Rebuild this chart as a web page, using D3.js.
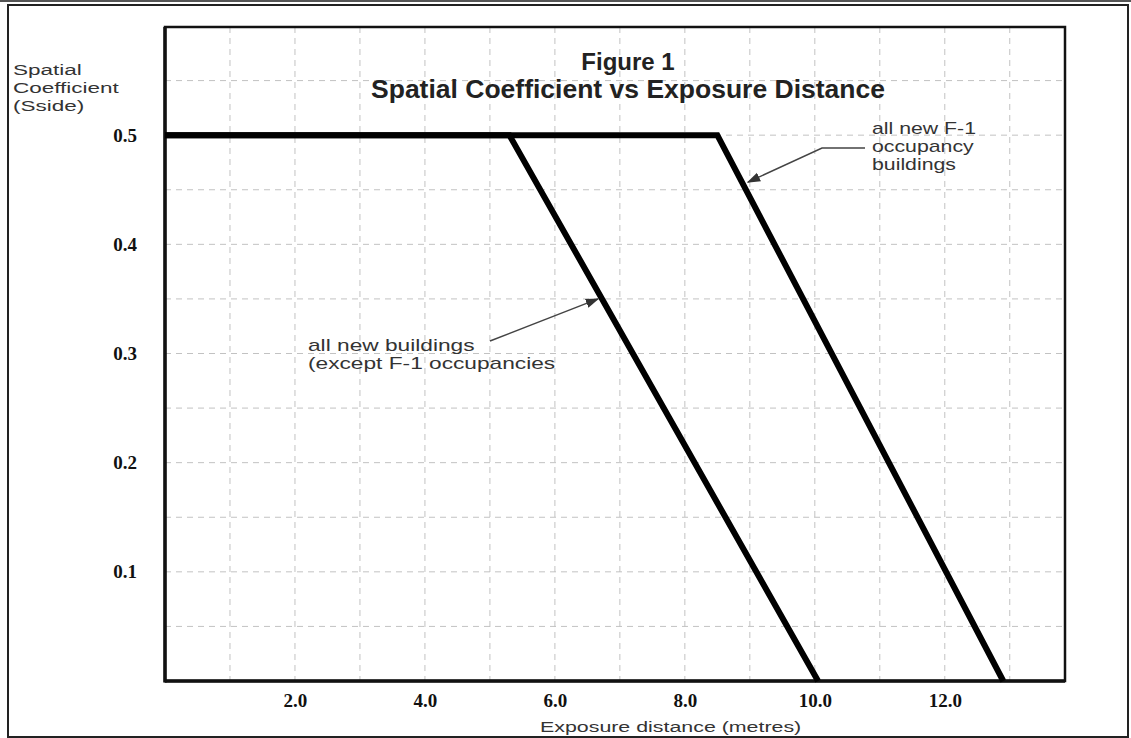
<!DOCTYPE html>
<html><head><meta charset="utf-8">
<script src="https://cdn.jsdelivr.net/npm/d3@7"></script>
<style>body{margin:0;background:#fff}svg{display:block}</style>
</head><body>
<svg id="c" width="1131" height="738"></svg>
<script>
// ---- data ----
const seriesNames = ["all new buildings (except F-1 occupancies", "all new F-1 occupancy buildings"];
const distanceGeneral = [0, 5.3, 10.05];
const coefGeneral = [0.5, 0.5, 0];
const distanceF1 = [0, 8.5, 12.9];
const coefF1 = [0.5, 0.5, 0];
const xTickValues = [2, 4, 6, 8, 10, 12];
const xTickLabels = ["2.0", "4.0", "6.0", "8.0", "10.0", "12.0"];
const yTickValues = [0.1, 0.2, 0.3, 0.4, 0.5];
const yTickLabels = ["0.1", "0.2", "0.3", "0.4", "0.5"];
const xGridValues = [1, 2, 3, 4, 5, 6, 7, 8, 9, 10, 11, 12, 13];
const yGridValues = [0.05, 0.1, 0.15, 0.2, 0.25, 0.3, 0.35, 0.4, 0.45, 0.5, 0.55];
const xDomain = [0, 13.85];
const yDomain = [0, 0.6];
const titleLines = ["Figure 1", "Spatial Coefficient vs Exposure Distance"];
const yTitleLines = ["Spatial", "Coefficient", "(Sside)"];
const xTitle = "Exposure distance (metres)";
const noteGeneral = ["all new buildings", "(except F-1 occupancies"];
const noteF1 = ["all new F-1", "occupancy", "buildings"];

// ---- layout ----
const svg = d3.select("#c");
const L = 165, R = 1065, T = 27, B = 681;
const x = d3.scaleLinear().domain(xDomain).range([L, R]);
const y = d3.scaleLinear().domain(yDomain).range([B, T - 1]);

svg.append("rect").attr("width", 1131).attr("height", 738).attr("fill", "#fff");

// scan edge + outer frame
svg.append("line").attr("x1", 0).attr("x2", 1131).attr("y1", 1).attr("y2", 1)
  .attr("stroke", "#555").attr("stroke-width", 2);
svg.append("rect").attr("x", 8).attr("y", 5).attr("width", 1120).attr("height", 732)
  .attr("fill", "none").attr("stroke", "#222").attr("stroke-width", 2);

// grid
const grid = svg.append("g").attr("stroke", "#c2c2c2").attr("stroke-width", 1)
  .attr("stroke-dasharray", "6,5");
grid.selectAll(".gx").data(xGridValues).join("line")
  .attr("x1", d => x(d)).attr("x2", d => x(d)).attr("y1", T).attr("y2", B);
grid.selectAll(".gy").data(yGridValues).join("line")
  .attr("y1", d => y(d)).attr("y2", d => y(d)).attr("x1", L).attr("x2", R);

// plot box
svg.append("rect").attr("x", L).attr("y", T).attr("width", R - L).attr("height", B - T)
  .attr("fill", "none").attr("stroke", "#111").attr("stroke-width", 2.5);
svg.append("line").attr("x1", L).attr("x2", L).attr("y1", T).attr("y2", B + 1.5)
  .attr("stroke", "#111").attr("stroke-width", 3.5);
svg.append("line").attr("x1", L).attr("x2", R).attr("y1", B).attr("y2", B)
  .attr("stroke", "#111").attr("stroke-width", 3.5);

// axes (labels only)
const tickFont = "'Liberation Serif', 'DejaVu Serif', serif";
const xAxis = svg.append("g").attr("transform", `translate(0,${B})`)
  .call(d3.axisBottom(x).tickValues(xTickValues).tickFormat((d, i) => xTickLabels[i]).tickSize(0).tickPadding(13));
const yAxis = svg.append("g").attr("transform", `translate(${L},0)`)
  .call(d3.axisLeft(y).tickValues(yTickValues).tickFormat((d, i) => yTickLabels[i]).tickSize(0).tickPadding(28));
[xAxis, yAxis].forEach(g => {
  g.select(".domain").remove();
  g.selectAll("text").attr("font-family", tickFont).attr("font-weight", "bold")
    .attr("font-size", 19).attr("fill", "#111");
});

// series lines
const line = d3.line().x(d => x(d[0])).y(d => y(d[1]));
const seriesData = [d3.zip(distanceGeneral, coefGeneral), d3.zip(distanceF1, coefF1)];
svg.selectAll(".series").data(seriesData).join("path")
  .attr("d", line).attr("fill", "none").attr("stroke", "#000")
  .attr("stroke-width", 6).attr("stroke-linejoin", "miter");

// text helpers
const sans = "'Liberation Sans', Arial, sans-serif";
function stretchText(lines, x0, y0, dy, size, sx, color) {
  lines.forEach((t, i) => {
    svg.append("text").attr("transform", `translate(${x0},${y0 + i * dy}) scale(${sx},1)`)
      .attr("font-family", sans).attr("font-size", size).attr("fill", color || "#333").text(t);
  });
}

// title
svg.selectAll(".title").data(titleLines).join("text")
  .attr("x", 628).attr("y", (d, i) => 70 + i * 28)
  .attr("text-anchor", "middle").attr("font-family", sans).attr("font-weight", "bold")
  .attr("font-size", (d, i) => i === 0 ? 24 : 26.5).attr("fill", "#222").text(d => d);

// y title
stretchText(yTitleLines, 13, 75, 18, 15, 1.5, "#333");
// x title
stretchText([xTitle], 540, 732, 0, 15.5, 1.38, "#333");

// annotations
stretchText(noteF1, 872, 134, 18, 16, 1.33, "#333");
stretchText(noteGeneral, 308, 351, 17.5, 16, 1.42, "#333");

// arrows
const defs = svg.append("defs");
defs.append("marker").attr("id", "ah").attr("viewBox", "0 0 10 10").attr("refX", 9).attr("refY", 5)
  .attr("markerWidth", 9).attr("markerHeight", 9).attr("orient", "auto-start-reverse")
  .append("path").attr("d", "M0,1.5 L10,5 L0,8.5 Z").attr("fill", "#333");

// point on a series at a given coefficient (descending segment)
function onSeries(dist, coef, c) {
  const x0 = dist[1], x1 = dist[2], c0 = coef[1], c1 = coef[2];
  return [x(x0 + (c - c0) / (c1 - c0) * (x1 - x0)), y(c)];
}
const tipF1 = onSeries(distanceF1, coefF1, 0.457);
svg.append("path")
  .attr("d", `M865,148 L822,148 L${tipF1[0] + 6},${tipF1[1]}`)
  .attr("fill", "none").attr("stroke", "#444").attr("stroke-width", 1.5).attr("marker-end", "url(#ah)");
const tipG = onSeries(distanceGeneral, coefGeneral, 0.35);
svg.append("path")
  .attr("d", `M490,341 L${tipG[0] - 4},${tipG[1]}`)
  .attr("fill", "none").attr("stroke", "#444").attr("stroke-width", 1.5).attr("marker-end", "url(#ah)");
</script>
</body></html>
